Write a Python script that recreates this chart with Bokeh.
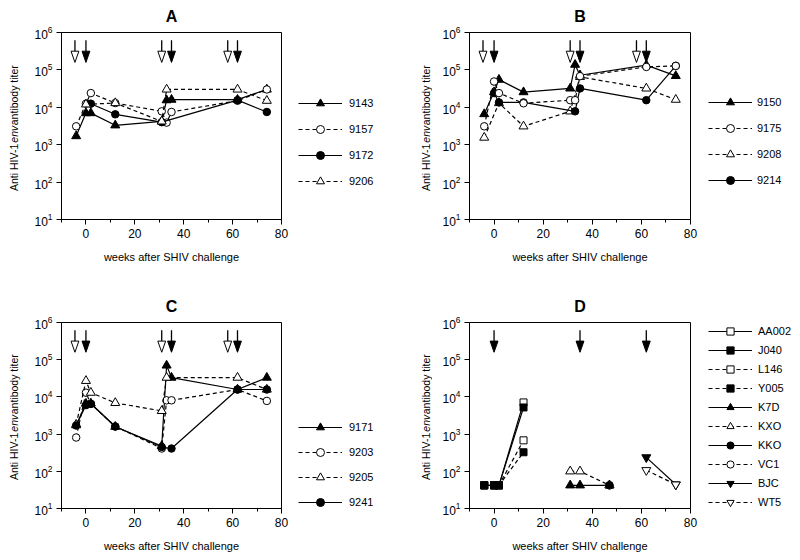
import math
from bokeh.plotting import figure
from bokeh.models import Range1d, FixedTicker, Legend, LegendItem
from bokeh.layouts import column, row
from bokeh.embed import file_html
from bokeh.resources import INLINE
from bokeh.core.properties import value

# ---------------- data ----------------
week_ticks = [0, 20, 40, 60, 80]
week_minor_ticks = [-10, 10, 30, 50, 70]
titer_ticks = [1e1, 1e2, 1e3, 1e4, 1e5, 1e6]

open_arrow_weeks = [-4.5, 31, 58]
filled_arrow_weeks = [0, 35, 62]
d_arrow_weeks = [0, 35, 62]

# Panel A
a_9143_x = [-4, 0, 2, 12, 31, 33, 35, 62, 74]
a_9143_y = [1700, 7000, 7000, 3300, 4200, 15500, 16000, 16000, 30000]
a_9157_x = [-4, 0, 2, 12, 31, 33, 35, 62, 74]
a_9157_y = [3100, 12500, 24000, 13000, 7800, 3900, 7500, 15000, 30000]
a_9172_x = [2, 12, 31, 62, 74]
a_9172_y = [12500, 6500, 4000, 15500, 7500]
a_9206_x = [0, 12, 31, 33, 62, 74]
a_9206_y = [12000, 13000, 4200, 30000, 30000, 15000]

# Panel B
b_9150_x = [-4, 0, 2, 12, 31, 33, 35, 62, 74]
b_9150_y = [6600, 25500, 55000, 25500, 32000, 138000, 72000, 134000, 69000]
b_9175_x = [-4, 0, 2, 12, 31, 33, 35, 62, 74]
b_9175_y = [3100, 49000, 24000, 12800, 15500, 15500, 68000, 120000, 128000]
b_9208_x = [-4, 2, 12, 31, 35, 62, 74]
b_9208_y = [1550, 13000, 3100, 7800, 65000, 32000, 16000]
b_9214_x = [0, 2, 12, 33, 35, 62, 74]
b_9214_y = [24000, 13500, 13500, 7800, 32000, 15500, 128000]

# Panel C
c_9171_x = [-4, 0, 2, 12, 31, 33, 35, 62, 74]
c_9171_y = [1740, 6600, 6700, 1580, 480, 70000, 33000, 15800, 33000]
c_9203_x = [-4, 0, 2, 12, 31, 33, 35, 62, 74]
c_9203_y = [810, 13000, 6500, 1600, 410, 8100, 8100, 15800, 7800]
c_9205_x = [-4, 0, 2, 12, 31, 33, 62, 74]
c_9205_y = [1800, 27000, 13000, 6900, 4200, 33000, 33000, 15800]
c_9241_x = [-4, 0, 2, 12, 31, 35, 62, 74]
c_9241_y = [1700, 6000, 6500, 1600, 450, 410, 15800, 15800]

# Panel D
d_AA002_x = [-4, 0, 2, 12]
d_AA002_y = [42, 42, 42, 7100]
d_J040_x = [-4, 0, 2, 12]
d_J040_y = [42, 42, 42, 5200]
d_L146_x = [-4, 0, 2, 12]
d_L146_y = [42, 42, 42, 680]
d_Y005_x = [-4, 0, 2, 12]
d_Y005_y = [42, 42, 42, 325]
d_K7D_x = [31, 35, 47]
d_K7D_y = [42, 42, 42]
d_KXO_x = [31, 35, 47]
d_KXO_y = [100, 100, 42]
d_KKO_x = [47]
d_KKO_y = [42]
d_VC1_x = [47]
d_VC1_y = [42]
d_BJC_x = [62, 74]
d_BJC_y = [237, 44]
d_WT5_x = [62, 74]
d_WT5_y = [107, 44]

# (label, x, y, marker, filled, dashed)
series_a = [
    ("9143", a_9143_x, a_9143_y, "triangle", True, False),
    ("9157", a_9157_x, a_9157_y, "circle", False, True),
    ("9172", a_9172_x, a_9172_y, "circle", True, False),
    ("9206", a_9206_x, a_9206_y, "triangle", False, True),
]
series_b = [
    ("9150", b_9150_x, b_9150_y, "triangle", True, False),
    ("9175", b_9175_x, b_9175_y, "circle", False, True),
    ("9208", b_9208_x, b_9208_y, "triangle", False, True),
    ("9214", b_9214_x, b_9214_y, "circle", True, False),
]
series_c = [
    ("9171", c_9171_x, c_9171_y, "triangle", True, False),
    ("9203", c_9203_x, c_9203_y, "circle", False, True),
    ("9205", c_9205_x, c_9205_y, "triangle", False, True),
    ("9241", c_9241_x, c_9241_y, "circle", True, False),
]
series_d = [
    ("AA002", d_AA002_x, d_AA002_y, "square", False, False),
    ("J040", d_J040_x, d_J040_y, "square", True, False),
    ("L146", d_L146_x, d_L146_y, "square", False, True),
    ("Y005", d_Y005_x, d_Y005_y, "square", True, True),
    ("K7D", d_K7D_x, d_K7D_y, "triangle", True, False),
    ("KXO", d_KXO_x, d_KXO_y, "triangle", False, True),
    ("KKO", d_KKO_x, d_KKO_y, "circle", True, False),
    ("VC1", d_VC1_x, d_VC1_y, "circle", False, True),
    ("BJC", d_BJC_x, d_BJC_y, "inverted_triangle", True, False),
    ("WT5", d_WT5_x, d_WT5_y, "inverted_triangle", False, True),
]
draw_order_b = ["9150", "9208", "9214", "9175"]
draw_order_d = ["AA002", "J040", "L146", "Y005", "K7D", "KXO", "VC1", "KKO", "BJC", "WT5"]

ylabel_parts = ["Anti HIV-1", "env", "antibody titer"]
ylabel_styles = ["normal", "italic", "normal"]
xlabel_text = "weeks after SHIV challenge"

# ---------------- styling ----------------
FONT = "Liberation Sans"
ARROW_TOP = 10 ** 5.79
HEAD_TOP = 10 ** 5.5
HEAD_TIP = 10 ** 5.2
HALF_W = 1.6
MARKER_SIZE = {"triangle": 9, "circle": 7.5, "square": 7, "inverted_triangle": 9}
YLAB_ADV = [48.3, 17.4, 0]   # advance (px) after each y-label piece


def bare_figure(W, H, xr, yr):
    f = figure(width=W, height=H, x_range=xr, y_range=yr,
               min_border=0, x_axis_location=None, y_axis_location=None,
               output_backend="svg", toolbar_location=None)
    f.grid.visible = False
    f.outline_line_color = None
    return f


def draw_arrows(p, weeks, filled):
    if not weeks:
        return
    n = len(weeks)
    p.segment(x0=weeks, y0=[ARROW_TOP] * n, x1=weeks, y1=[HEAD_TOP] * n,
              line_color="black", line_width=1.3)
    xs = [[w - HALF_W, w + HALF_W, w] for w in weeks]
    ys = [[HEAD_TOP, HEAD_TOP, HEAD_TIP] for _ in weeks]
    p.patches(xs, ys, fill_color="black" if filled else "white",
              line_color="black", line_width=1)


def ylabel_strip(W, H, fh, cx, y0):
    # frame of this strip is aligned with the neighbouring plot frame (height fh)
    s = bare_figure(W, H, Range1d(0, W), Range1d(0, fh))
    ys = []
    y = y0
    for adv in YLAB_ADV:
        ys.append(y)
        y += adv
    for style in ("normal", "italic"):
        idx = [i for i, st in enumerate(ylabel_styles) if st == style]
        s.text(x=[cx] * len(idx), y=[ys[i] for i in idx],
               text=[ylabel_parts[i] for i in idx], angle=math.pi / 2,
               text_font=value(FONT), text_font_size=value("10.5px"),
               text_font_style=style, text_align="left",
               text_baseline="middle", text_color="black")
    return s


def legend_strip(series, W, H, vx, vy, gh, sp, standoff):
    # ranges far away from the data so that the series themselves stay hidden
    f = bare_figure(W, H, Range1d(-1000, -900), Range1d(-1000, -900))
    items = []
    for (name, xs, ys, marker, filled, dashed) in series:
        lr = f.line(xs, ys, line_color="black", line_width=1.2,
                    line_dash="4 3" if dashed else "solid")
        sr = f.scatter(xs, ys, marker=marker,
                       fill_color="black" if filled else "white",
                       line_color="black", line_width=1)
        items.append(LegendItem(label=name, renderers=[lr, sr]))
    legend = Legend(items=items, location=(vx, vy), orientation="vertical",
                    glyph_width=44, glyph_height=gh, label_height=gh,
                    spacing=sp, padding=0, margin=0, label_standoff=standoff,
                    label_text_font=FONT, label_text_font_size="11px",
                    label_text_color="black",
                    border_line_alpha=0, background_fill_alpha=0)
    f.add_layout(legend, "center")
    return f


def make_panel(letter, series, open_w, filled_w, W, H, bl, br, bt, bb,
               draw_order=None):
    p = figure(width=W, height=H, min_border_left=bl, min_border_right=br,
               min_border_top=bt, min_border_bottom=bb,
               x_range=Range1d(-10, 80), y_range=Range1d(10, 1e6),
               y_axis_type="log", output_backend="svg", toolbar_location=None,
               background_fill_color="white", border_fill_color="white")
    p.grid.visible = False
    p.outline_line_color = "black"
    p.outline_line_width = 1

    p.title.text = letter
    p.title.align = "center"
    p.title.vertical_align = "top"
    p.title.text_font = FONT
    p.title.text_font_size = "16px"
    p.title.text_font_style = "bold"
    p.title.text_color = "black"
    p.title.standoff = 11

    p.xaxis.ticker = FixedTicker(ticks=week_ticks, minor_ticks=week_minor_ticks)
    p.yaxis.ticker = FixedTicker(ticks=titer_ticks, minor_ticks=[])
    for ax in (p.xaxis, p.yaxis):
        ax.axis_line_color = "black"
        ax.major_tick_in = 0
        ax.major_tick_out = 5
        ax.minor_tick_in = 0
        ax.minor_tick_out = 3
        ax.major_label_text_font = FONT
        ax.major_label_text_font_size = "12px"
        ax.major_label_text_color = "black"
        ax.major_label_standoff = 4
    p.xaxis.axis_label = xlabel_text
    p.xaxis.axis_label_text_font = FONT
    p.xaxis.axis_label_text_font_size = "11px"
    p.xaxis.axis_label_text_font_style = "normal"
    p.xaxis.axis_label_text_color = "black"
    p.xaxis.axis_label_standoff = 10

    draw_arrows(p, open_w, False)
    draw_arrows(p, filled_w, True)

    spec = {s[0]: s[1:] for s in series}
    order = draw_order if draw_order else [s[0] for s in series]
    for name in order:
        xs, ys, marker, filled, dashed = spec[name]
        p.line(xs, ys, line_color="black", line_width=1.2,
               line_dash="4 3" if dashed else "solid")
        p.scatter(xs, ys, marker=marker, size=MARKER_SIZE[marker],
                  fill_color="black" if filled else "white",
                  line_color="black", line_width=1)
    return p


# top row (height 280, frame 32..219): A = strip 24 + plot 266 + legend 110 ; B = 32 + 267 + 93
sA = ylabel_strip(24, 280, 187, 13.3, 28.5)
pA = make_panel("A", series_a, open_arrow_weeks, filled_arrow_weeks,
                266, 280, 37, 9, 32, 61)
lA = legend_strip(series_a, 110, 280, 8, 28.5, 20, 6, 7)
sB = ylabel_strip(32, 280, 187, 25, 28.5)
pB = make_panel("B", series_b, open_arrow_weeks, filled_arrow_weeks,
                267, 280, 37, 9, 32, 61, draw_order=draw_order_b)
lB = legend_strip(series_b, 93, 280, 9, 29, 20, 6, 5)

# bottom row (height 276, frame 322..508)
sC = ylabel_strip(24, 276, 186, 13.3, 28.5)
pC = make_panel("C", series_c, open_arrow_weeks, filled_arrow_weeks,
                266, 276, 37, 9, 42, 48)
lC = legend_strip(series_c, 110, 276, 8, -4, 20, 5, 7)
sD = ylabel_strip(32, 276, 186, 25, 28.5)
pD = make_panel("D", series_d, [], d_arrow_weeks,
                267, 276, 37, 9, 42, 48, draw_order=draw_order_d)
lD = legend_strip(series_d, 93, 276, 9, -3, 18, 1, 6)

layout = column(row(sA, pA, lA, sB, pB, lB), row(sC, pC, lC, sD, pD, lD))
open("out.html", "w").write(file_html(layout, INLINE))
